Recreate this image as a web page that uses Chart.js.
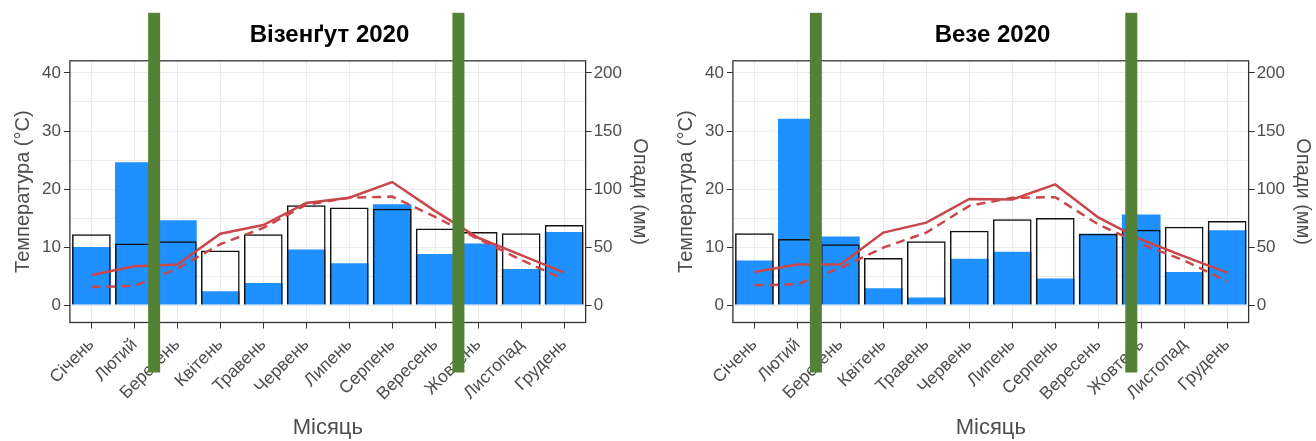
<!DOCTYPE html>
<html>
<head>
<meta charset="utf-8">
<script src="https://cdn.jsdelivr.net/npm/chart.js@4.4.1/dist/chart.umd.min.js"></script>
<style>
  body { margin: 0; background: #fff; }
  .panel { position: absolute; top: 0; width: 658px; height: 441px; }
</style>
</head>
<body>
<div class="panel" style="left:0"><canvas id="chartA" width="658" height="441"></canvas></div>
<div class="panel" style="left:658px"><canvas id="chartB" width="658" height="441"></canvas></div>
<script>
// months
var months = ["Січень", "Лютий", "Березень", "Квітень", "Травень", "Червень",
  "Липень", "Серпень", "Вересень", "Жовтень", "Листопад", "Грудень"];

// Візенґут 2020
var precipA2020 = [50, 123, 73, 12, 19, 48, 36, 87, 44, 53, 31, 63];
var precipANorm = [61, 53, 55, 47, 61, 86, 84, 83, 66, 63, 62, 69];
var tempA2020 = [5.2, 6.7, 7.0, 12.3, 13.8, 17.6, 18.5, 21.2, 16.2, 11.6, 8.6, 5.6];
var tempANorm = [3.1, 3.3, 6.3, 10.5, 13.3, 17.3, 18.5, 18.7, 15.2, 11.4, 7.8, 4.4];
var seasonA = [1.46, 8.54];

// Везе 2020
var precipB2020 = [38.5, 160.5, 59, 14.5, 6.5, 40, 46, 23, 61.5, 78, 28.5, 64.5];
var precipBNorm = [62, 57, 52.5, 40.5, 55, 64, 74, 75, 61.5, 65, 67.5, 72.5];
var tempB2020 = [5.7, 7.0, 7.0, 12.5, 14.2, 18.3, 18.2, 20.8, 15.1, 11.3, 8.4, 5.6];
var tempBNorm = [3.4, 3.6, 6.4, 9.9, 12.5, 17.1, 18.5, 18.6, 13.9, 10.5, 7.7, 4.1];
var seasonB = [1.43, 8.77];

var tempTicks = [0, 5, 10, 15, 20, 25, 30, 35, 40];
var precipTicks = [0, 50, 100, 150, 200];

var grey = "#4d4d4d";
var red = "#c9474b";

// box around plot + green season markers
var boxPlugin = {
  id: "box",
  afterDatasetsDraw: function (chart) {
    var a = chart.chartArea, ctx = chart.ctx;
    ctx.save();
    ctx.strokeStyle = "#333";
    ctx.lineWidth = 1.3;
    ctx.strokeRect(a.left, a.top, a.right - a.left, a.bottom - a.top);
    ctx.restore();
  },
  afterDraw: function (chart) {
    var a = chart.chartArea, ctx = chart.ctx, x = chart.scales.x;
    ctx.save();
    ctx.fillStyle = "#538135";
    chart.options.plugins.box.marks.forEach(function (m) {
      var px = x.getPixelForValue(m);
      ctx.fillRect(px - 6, a.top - 48, 12, a.bottom - a.top + 98);
    });
    ctx.restore();
  }
};

function makeChart(id, title, p20, pNorm, t20, tNorm, marks, padLeft, padRight) {
  new Chart(id, {
    data: {
      labels: months,
      datasets: [
        { type: "line", data: t20, yAxisID: "t", borderColor: red, borderWidth: 2.5,
          pointRadius: 0, tension: 0, fill: false },
        { type: "line", data: tNorm, yAxisID: "t", borderColor: red, borderWidth: 2.5,
          borderDash: [9, 6], pointRadius: 0, tension: 0, fill: false },
        { type: "bar", data: pNorm, yAxisID: "p", backgroundColor: "rgba(0,0,0,0)",
          borderColor: "#111", borderWidth: 1.5, grouped: false,
          barPercentage: 0.9, categoryPercentage: 1 },
        { type: "bar", data: p20, yAxisID: "p", backgroundColor: "#1e90ff",
          borderWidth: 0, grouped: false, barPercentage: 0.9, categoryPercentage: 1 }
      ]
    },
    options: {
      responsive: false,
      animation: false,
      layout: { padding: { left: padLeft, right: padRight, bottom: 0 } },
      plugins: {
        legend: { display: false },
        tooltip: { enabled: false },
        title: { display: true, text: title, color: "#000",
          font: { family: "Liberation Sans", size: 24, weight: "bold" },
          padding: { top: 21, bottom: 11 } },
        box: { marks: marks }
      },
      scales: {
        x: {
          grid: { offset: false, color: "#ebebeb", tickColor: "#333", tickLength: 6 },
          border: { display: false },
          ticks: { color: grey, font: { family: "Liberation Sans", size: 17.5 },
            minRotation: 45, maxRotation: 45, autoSkip: false, padding: 6 },
          title: { display: true, text: "Місяць", color: grey,
            font: { family: "Liberation Sans", size: 22 }, padding: { top: 4, bottom: 0 } }
        },
        t: {
          position: "left", min: -3, max: 42.1,
          afterBuildTicks: function (ax) { ax.ticks = tempTicks.map(function (v) { return { value: v }; }); },
          grid: { color: "#ebebeb",
            tickColor: function (c) { return c.tick && c.tick.value % 10 === 0 ? "#333" : "rgba(0,0,0,0)"; },
            tickLength: 6 },
          border: { display: false },
          ticks: { color: grey, font: { family: "Liberation Sans", size: 17 }, padding: 3,
            callback: function (v) { return v % 10 === 0 ? v : ""; } },
          title: { display: true, text: "Температура (°C)", color: grey,
            font: { family: "Liberation Sans", size: 20 }, padding: { bottom: 4 } }
        },
        p: {
          position: "right", min: -15, max: 210.5,
          afterBuildTicks: function (ax) { ax.ticks = precipTicks.map(function (v) { return { value: v }; }); },
          grid: { drawOnChartArea: false, tickColor: "#333", tickLength: 6 },
          border: { display: false },
          ticks: { color: grey, font: { family: "Liberation Sans", size: 17 }, padding: 2 },
          title: { display: true, text: "Опади (мм)", color: grey,
            font: { family: "Liberation Sans", size: 20 }, padding: { top: 0 } }
        }
      }
    },
    plugins: [boxPlugin]
  });
}

makeChart("chartA", "Візенґут 2020", precipA2020, precipANorm, tempA2020, tempANorm, seasonA, 7, 6);
makeChart("chartB", "Везе 2020", precipB2020, precipBNorm, tempB2020, tempBNorm, seasonB, 12, 1);
</script>
</body>
</html>
